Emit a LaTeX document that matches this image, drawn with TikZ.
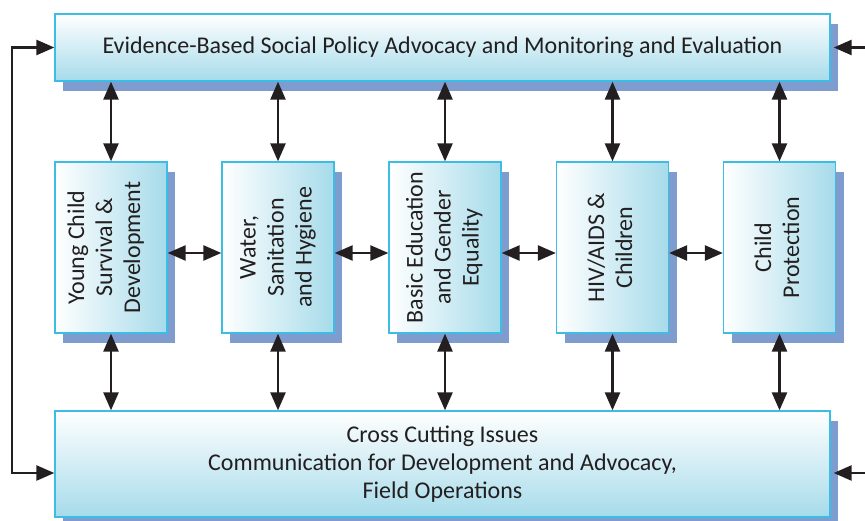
\documentclass[tikz,border=0pt]{standalone}
\usepackage{fontspec}
\setmainfont{Carlito}
\usetikzlibrary{shadows,arrows.meta}
\definecolor{bordercol}{HTML}{3CBDE6}
\definecolor{shadecol}{HTML}{A6DBEA}
\definecolor{shadowcol}{HTML}{7F9CCF}
\definecolor{txt}{HTML}{231F20}
\begin{document}
\begin{tikzpicture}[x=1pt,y=-1pt,
  box/.style={draw=bordercol, line width=1.3pt, inner sep=0pt, text=txt, align=center,
    font=\fontsize{24}{28}\selectfont,
    drop shadow={shadow xshift=8pt, shadow yshift=-10pt, fill=shadowcol, opacity=1}},
  hbox/.style={box, top color=white, bottom color=shadecol, minimum width=775pt},
  vbox/.style={box, left color=white, right color=shadecol, minimum width=112pt, minimum height=171pt},
  link/.style={line width=2.5pt, draw=txt, {Triangle[length=18pt,width=15pt]}-{Triangle[length=18pt,width=15pt]}},
  one/.style={line width=2.5pt, draw=txt, -{Triangle[length=18pt,width=15pt]}}]
\useasboundingbox (0,0) rectangle (865,521);

\node[hbox, minimum height=67pt] (top) at (442.5,47.5)
  {Evidence-Based Social Policy Advocacy and Monitoring and Evaluation};
\node[hbox, minimum height=106pt] (bot) at (442.5,464)
  {Cross Cutting Issues\\Communication for Development and Advocacy,\\Field Operations};

\node[vbox] (b1) at (111,247.5)
  {\rotatebox{90}{\begin{tabular}{@{}c@{}}Young Child\\Survival \&\\Development\end{tabular}}\hspace*{9pt}};
\node[vbox] (b2) at (278,247.5)
  {\rotatebox{90}{\begin{tabular}{@{}c@{}}Water,\\Sanitation\\and Hygiene\end{tabular}}};
\node[vbox] (b3) at (445,247.5)
  {\rotatebox{90}{\begin{tabular}{@{}c@{}}Basic Education\\and Gender\\Equality\end{tabular}}};
\node[vbox] (b4) at (612.5,247.5)
  {\rotatebox{90}{\begin{tabular}{@{}c@{}}HIV/AIDS \&\\Children\end{tabular}}};
\node[vbox] (b5) at (779.5,247.5)
  {\rotatebox{90}{\begin{tabular}{@{}c@{}}Child\\Protection\end{tabular}}};

\foreach \i in {1,...,5} {
  \draw[link] (top.south -| b\i) -- (b\i.north);
  \draw[link] (b\i.south) -- (bot.north -| b\i);
}
\foreach \i/\j in {1/2,2/3,3/4,4/5}
  \draw[link] ([yshift=-5.5pt]b\i.east) -- ([yshift=-5.5pt]b\j.west);

\coordinate (lt) at (12,47.5);
\coordinate (lb) at (12,473);
\coordinate (rt) at (865,47.5);
\coordinate (rb) at (865,473);
\draw[link] (top.west) -- (lt) -- (lb) -- (bot.west |- lb);
\draw[one] (rt) -- ([xshift=3pt]top.east |- rt);
\draw[one] (rb) -- ([xshift=3pt]bot.east |- rb);
\end{tikzpicture}
\end{document}
